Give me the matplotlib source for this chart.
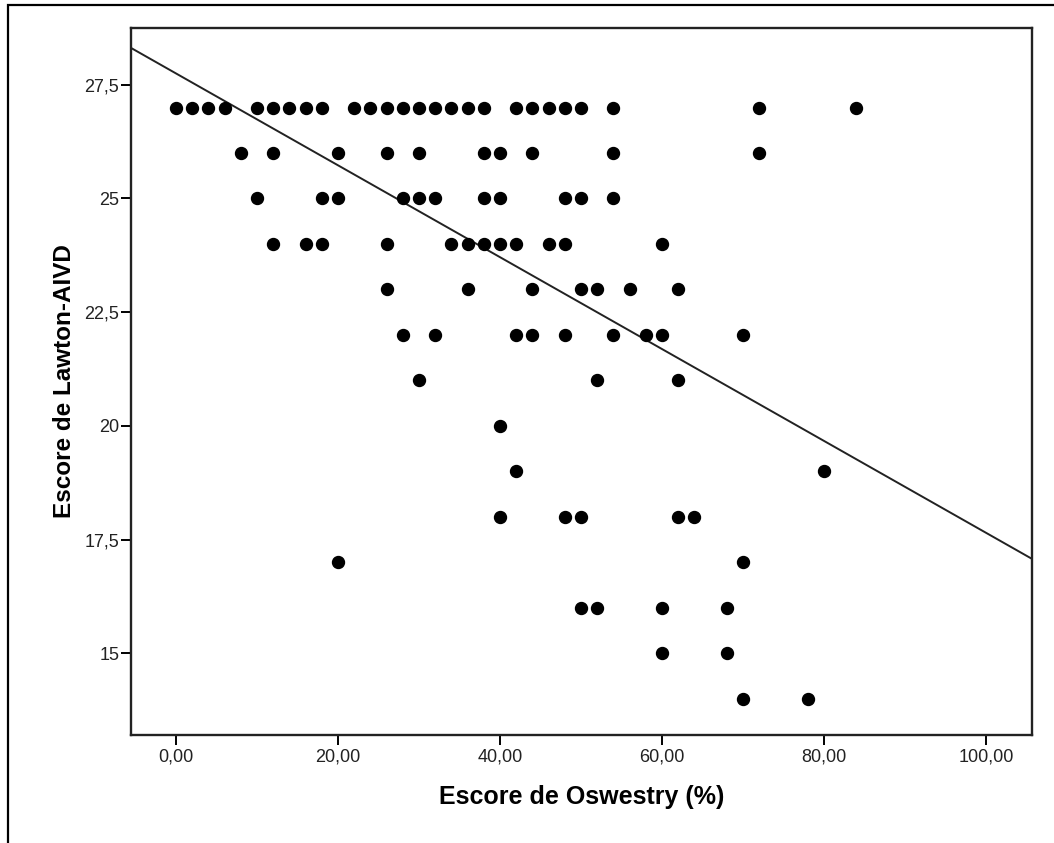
import numpy as np
import matplotlib.pyplot as plt
from matplotlib.patches import Rectangle

# Pontos por linha do escore de Lawton (x = escore de Oswestry)
row_27 = [0, 2, 4, 6, 10, 12, 14, 16, 18, 22, 24, 26, 28, 30, 32, 34, 36, 38,
          42, 44, 46, 48, 50, 54, 72, 84]
row_26 = [8, 12, 20, 26, 30, 38, 40, 44, 54, 72]
row_25 = [10, 18, 20, 28, 30, 32, 38, 40, 48, 50, 54]
row_24 = [12, 16, 18, 26, 34, 36, 38, 40, 42, 46, 48, 60]
row_23 = [26, 36, 44, 50, 52, 56, 62]
row_22 = [28, 32, 42, 44, 48, 54, 58, 60, 70]
row_21 = [30, 52, 62]
row_20 = [40]
row_19 = [42, 80]
row_18 = [40, 48, 50, 62, 64]
row_17 = [20, 70]
row_16 = [50, 52, 60, 68]
row_15 = [60, 68]
row_14 = [70, 78]

rows = {27: row_27, 26: row_26, 25: row_25, 24: row_24, 23: row_23,
        22: row_22, 21: row_21, 20: row_20, 19: row_19, 18: row_18,
        17: row_17, 16: row_16, 15: row_15, 14: row_14}

# reta de regressao
fit_intercept = 27.75
fit_slope = -0.101

x_ticks = [0, 20, 40, 60, 80, 100]
x_labels = ["0,00", "20,00", "40,00", "60,00", "80,00", "100,00"]
y_ticks = [15, 17.5, 20, 22.5, 25, 27.5]
y_labels = ["15", "17,5", "20", "22,5", "25", "27,5"]

plt.rcParams['font.family'] = ['Liberation Sans', 'DejaVu Sans']

fig = plt.figure(figsize=(10.54, 8.43), dpi=100)
ax = fig.add_axes([0.1243, 0.1281, 0.8548, 0.8387])

xs, ys = [], []
for yv, xv in rows.items():
    xs += xv
    ys += [yv] * len(xv)
ax.plot(xs, ys, 'o', color='black', markersize=8.6, linestyle='none', zorder=3)

xlim = (-5.56, 105.7)
ylim = (13.2, 28.75)
lx = np.array(xlim)
ax.plot(lx, fit_intercept + fit_slope * lx, color='#222222', linewidth=1.4, zorder=2)
ax.set_xlim(xlim)
ax.set_ylim(ylim)

ax.set_xticks(x_ticks)
ax.set_xticklabels(x_labels)
ax.set_yticks(y_ticks)
ax.set_yticklabels(y_labels)
ax.tick_params(axis='both', direction='out', length=7.5, width=1.4,
               labelsize=13, colors='black', labelcolor='#222222')
ax.tick_params(axis='x', pad=2)
ax.tick_params(axis='y', pad=1)
for s in ax.spines.values():
    s.set_linewidth(1.7)
    s.set_color('#222222')

ax.set_xlabel("Escore de Oswestry (%)", fontsize=18, fontweight='bold', labelpad=14)
ax.set_ylabel("Escore de Lawton-AIVD", fontsize=17.5, fontweight='bold')
ax.yaxis.set_label_coords(-0.061, 0.5)

# moldura externa
fig.patches.append(Rectangle((8 / 1054, -0.1), 1.2, (843 - 5) / 843 + 0.1,
                             transform=fig.transFigure, fill=False,
                             edgecolor='black', linewidth=1.6))

fig.savefig('out.png', dpi=100)
